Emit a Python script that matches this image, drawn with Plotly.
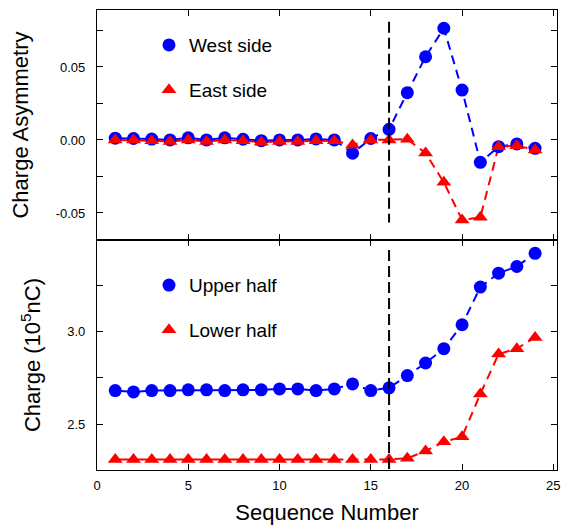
import plotly.graph_objects as go

seq = list(range(1, 25))
west = [0.0012, 0.001, 0.0006, 0.0, 0.0015, 0.0, 0.0015, 0.0005, -0.0005, 0.0, 0.0, 0.0007, 0.0,
        -0.0091, 0.001, 0.0073, 0.0324, 0.057, 0.0765, 0.0342, -0.0153, -0.0046, -0.0027, -0.0057]
east = [0.0, 0.0, -0.0005, -0.001, 0.0, -0.001, 0.0, -0.0005, -0.0015, -0.001, -0.001, -0.0005, -0.0005,
        -0.0034, 0.0, 0.0, 0.0005, -0.009, -0.029, -0.0548, -0.053, -0.0046, -0.0039, -0.0068]
upper = [2.681, 2.674, 2.681, 2.681, 2.685, 2.685, 2.681, 2.685, 2.685, 2.69, 2.69, 2.681, 2.69,
         2.717, 2.681, 2.696, 2.762, 2.830, 2.907, 3.036, 3.239, 3.314, 3.350, 3.421]
lower = [2.31] * 16 + [2.316, 2.355, 2.405, 2.432, 2.663, 2.878, 2.907, 2.968]

split = 13  # solid up to this sequence number, dashed afterwards
marker_x = 16
x_ticks = [0, 5, 10, 15, 20, 25]
top_ticks = [-0.05, 0.0, 0.05]
top_labels = ["-0.05", "0.00", "0.05"]
top_minor = [-0.025, 0.025, 0.075]
bot_ticks = [2.5, 3.0]
bot_labels = ["2.5", "3.0"]
bot_minor = [2.75, 3.25]

BLUE = "#0000FF"
RED = "#FF0000"
FONT = "Liberation Sans"

fig = go.Figure()

def add_series(x, y, color, symbol, name, xa, ya, legend, group):
    i = x.index(split)
    fig.add_trace(go.Scatter(x=x[:i + 1], y=y[:i + 1], mode="lines", xaxis=xa, yaxis=ya,
                             line=dict(color=color, width=2), showlegend=False, hoverinfo="skip"))
    fig.add_trace(go.Scatter(x=x[i:], y=y[i:], mode="lines", xaxis=xa, yaxis=ya,
                             line=dict(color=color, width=2, dash="9px,6px"), showlegend=False,
                             hoverinfo="skip"))
    return dict(x=x, y=y, color=color, symbol=symbol, name=name, xa=xa, ya=ya,
                legend=legend, group=group)

specs = [
    add_series(seq, west, BLUE, "circle", "West side", "x", "y", "legend", "a"),
    add_series(seq, east, RED, "triangle-up", "East side", "x", "y", "legend", "b"),
    add_series(seq, upper, BLUE, "circle", "Upper half", "x2", "y2", "legend2", "c"),
    add_series(seq, lower, RED, "triangle-up", "Lower half", "x2", "y2", "legend2", "d"),
]
for s in specs:
    fig.add_trace(go.Scatter(x=s["x"], y=s["y"], mode="markers", xaxis=s["xa"], yaxis=s["ya"],
                             name=s["name"], legend=s["legend"], legendgroup=s["group"],
                             marker=dict(color=s["color"], symbol=s["symbol"], size=13,
                                         line=dict(width=0))))

# vertical dashed marker lines
fig.add_trace(go.Scatter(x=[marker_x, marker_x], y=[0.081, -0.0566], mode="lines", xaxis="x", yaxis="y",
                         line=dict(color="black", width=2, dash="11px,5px"), showlegend=False))
fig.add_trace(go.Scatter(x=[marker_x, marker_x], y=[3.439, 2.253], mode="lines", xaxis="x2", yaxis="y2",
                         line=dict(color="black", width=2, dash="11px,5px"), showlegend=False))

axis_common = dict(showline=True, linecolor="black", linewidth=1.2, mirror="ticks",
                   ticks="inside", ticklen=6, tickwidth=1.2, tickcolor="black",
                   showgrid=False, zeroline=False, automargin=False,
                   tickfont=dict(family=FONT, size=13, color="black"))
minor_common = dict(ticks="inside", ticklen=6, tickwidth=1.2, tickcolor="black", showgrid=False)

leg_common = dict(bgcolor="rgba(0,0,0,0)", font=dict(family=FONT, size=19, color="black"),
                  tracegroupgap=17, itemsizing="trace", xanchor="left", yanchor="top")

TITLE_FONT = dict(family=FONT, size=22, color="black")

fig.update_layout(
    width=566, height=517,
    margin=dict(l=89, r=17, t=2, b=55, autoexpand=False),
    paper_bgcolor="white", plot_bgcolor="white",
    xaxis=dict(domain=[0, 1], range=[0, 25.2], tickvals=x_ticks, showticklabels=False,
               anchor="y", **axis_common),
    yaxis=dict(domain=[0.5, 1], range=[-0.0685, 0.089], tickvals=top_ticks, ticktext=top_labels,
               minor=dict(tickvals=top_minor, **minor_common), anchor="x", ticklabelstandoff=8,
               title=dict(text="Charge Asymmetry", font=TITLE_FONT, standoff=20),
               **axis_common),
    xaxis2=dict(domain=[0, 1], range=[0, 25.2], tickvals=x_ticks, anchor="y2", ticklabelstandoff=3,
                title=dict(text="Sequence Number", font=TITLE_FONT, standoff=12),
                **axis_common),
    yaxis2=dict(domain=[0, 0.5], range=[2.253, 3.493], tickvals=bot_ticks, ticktext=bot_labels,
                minor=dict(tickvals=bot_minor, **minor_common), anchor="x2", ticklabelstandoff=8,
                title=dict(text="Charge (10<sup>5</sup>nC)", font=TITLE_FONT, standoff=20),
                **axis_common),
    legend=dict(x=0.113, y=0.965, **leg_common),
    legend2=dict(x=0.113, y=0.443, **leg_common),
)

fig.write_html("out.html")
